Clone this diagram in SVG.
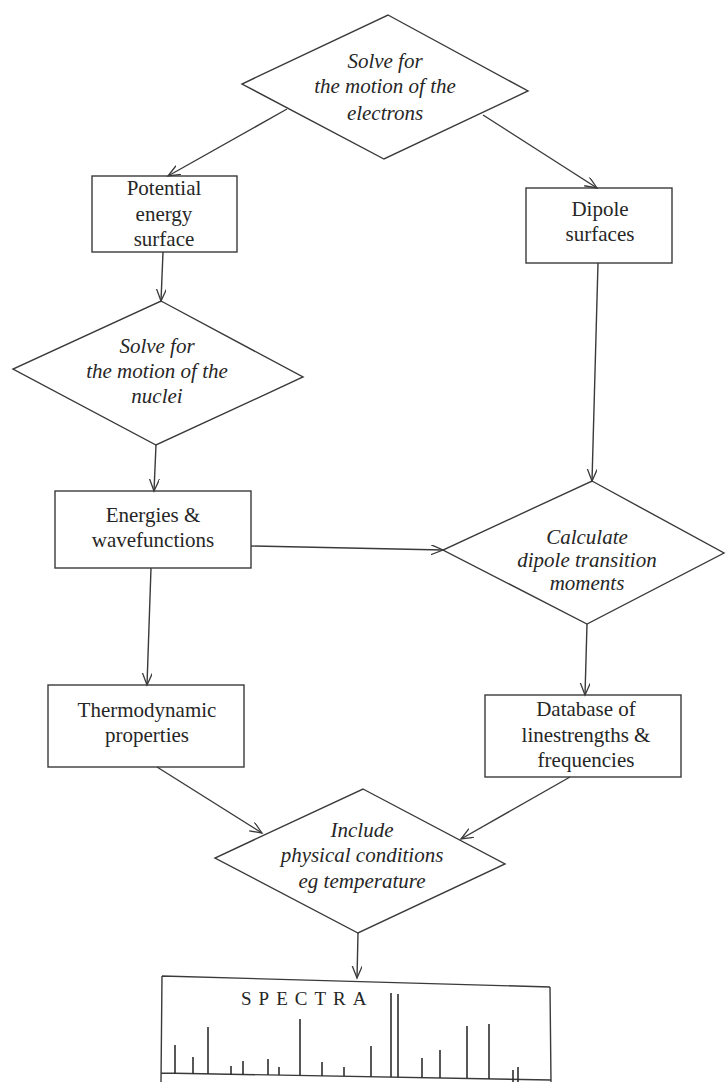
<svg xmlns="http://www.w3.org/2000/svg" width="728" height="1082" viewBox="0 0 728 1082">
<defs>
<style>
.shape{fill:none;stroke:#3a3a3a;stroke-width:1.4}
.conn{fill:none;stroke:#3a3a3a;stroke-width:1.4}
.t{font-family:"Liberation Serif","Times New Roman",serif;font-size:21px;fill:#262626;text-anchor:middle}
.i{font-style:italic}
.spec{stroke:#2e2e2e;stroke-width:1.6}
</style>
<marker id="ah" markerWidth="14" markerHeight="12" refX="12" refY="5" orient="auto" markerUnits="userSpaceOnUse">
<path d="M0,0 L12,5 L0,10" fill="none" stroke="#3a3a3a" stroke-width="1.3"/>
</marker>
</defs>
<rect width="728" height="1082" fill="#ffffff"/>

<g id="node-electrons">
<polygon class="shape" points="388,15 528,91 384,159 242,84"/>
<text class="t i" x="385" y="68">Solve for</text>
<text class="t i" x="385" y="93">the motion of the</text>
<text class="t i" x="385" y="120">electrons</text>
</g>

<g id="node-potential">
<rect class="shape" x="92" y="176" width="145" height="76"/>
<text class="t" x="164" y="195">Potential</text>
<text class="t" x="164" y="221">energy</text>
<text class="t" x="164" y="246">surface</text>
</g>

<g id="node-dipole">
<rect class="shape" x="526" y="188" width="146" height="75"/>
<text class="t" x="600" y="216">Dipole</text>
<text class="t" x="600" y="241">surfaces</text>
</g>

<g id="node-nuclei">
<polygon class="shape" points="161,301 303,377 156,445 13,369"/>
<text class="t i" x="157" y="353">Solve for</text>
<text class="t i" x="157" y="378">the motion of the</text>
<text class="t i" x="157" y="403">nuclei</text>
</g>

<g id="node-energies">
<rect class="shape" x="55" y="491" width="196" height="77"/>
<text class="t" x="153" y="522">Energies &amp;</text>
<text class="t" x="153" y="547">wavefunctions</text>
</g>

<g id="node-calculate">
<polygon class="shape" points="592,481 724,553 587,624 443,550"/>
<text class="t i" x="587" y="544">Calculate</text>
<text class="t i" x="587" y="567">dipole transition</text>
<text class="t i" x="587" y="590">moments</text>
</g>

<g id="node-thermo">
<rect class="shape" x="48" y="685" width="196" height="82"/>
<text class="t" x="147" y="717">Thermodynamic</text>
<text class="t" x="147" y="742">properties</text>
</g>

<g id="node-database">
<rect class="shape" x="485" y="695" width="196" height="82"/>
<text class="t" x="586" y="716">Database of</text>
<text class="t" x="586" y="742">linestrengths &amp;</text>
<text class="t" x="586" y="767">frequencies</text>
</g>

<g id="node-include">
<polygon class="shape" points="363,789 505,864 358,933 215,858"/>
<text class="t i" x="362" y="837">Include</text>
<text class="t i" x="362" y="862">physical conditions</text>
<text class="t i" x="362" y="888">eg temperature</text>
</g>

<g id="node-spectra">
<path class="shape" d="M162,976 L550,987 M162,976 L161,1082 M550,987 L551,1082 M161,1073 L551,1080"/>
<text x="241" y="1005" style="font-family:'Liberation Serif','Times New Roman',serif;font-size:19px;fill:#262626;letter-spacing:7px">SPECTRA</text>
<g class="spec">
<line x1="175" y1="1045" x2="175" y2="1074"/>
<line x1="193" y1="1057" x2="193" y2="1074"/>
<line x1="208" y1="1027" x2="208" y2="1074"/>
<line x1="231" y1="1066" x2="231" y2="1075"/>
<line x1="243" y1="1061" x2="243" y2="1075"/>
<line x1="268" y1="1059" x2="268" y2="1075"/>
<line x1="279" y1="1067" x2="279" y2="1075"/>
<line x1="300" y1="1019" x2="300" y2="1075"/>
<line x1="322" y1="1062" x2="322" y2="1076"/>
<line x1="344" y1="1067" x2="344" y2="1076"/>
<line x1="371" y1="1046" x2="371" y2="1077"/>
<line x1="391" y1="993" x2="391" y2="1077"/>
<line x1="398" y1="994" x2="398" y2="1077"/>
<line x1="422" y1="1058" x2="422" y2="1078"/>
<line x1="440" y1="1050" x2="440" y2="1078"/>
<line x1="467" y1="1026" x2="467" y2="1078"/>
<line x1="489" y1="1024" x2="489" y2="1079"/>
<line x1="513" y1="1070" x2="513" y2="1082"/>
<line x1="518" y1="1067" x2="518" y2="1082"/>
</g>
</g>

<g id="connectors">
<line class="conn" x1="287" y1="109" x2="168" y2="176" marker-end="url(#ah)"/>
<line class="conn" x1="483" y1="115" x2="597" y2="188" marker-end="url(#ah)"/>
<line class="conn" x1="163" y1="252" x2="161" y2="301" marker-end="url(#ah)"/>
<line class="conn" x1="598" y1="263" x2="592" y2="481" marker-end="url(#ah)"/>
<line class="conn" x1="156" y1="445" x2="154" y2="491" marker-end="url(#ah)"/>
<line class="conn" x1="251" y1="546" x2="443" y2="550" marker-end="url(#ah)"/>
<line class="conn" x1="151" y1="568" x2="147" y2="685" marker-end="url(#ah)"/>
<line class="conn" x1="587" y1="624" x2="585" y2="695" marker-end="url(#ah)"/>
<line class="conn" x1="157" y1="767" x2="262" y2="833" marker-end="url(#ah)"/>
<line class="conn" x1="570" y1="777" x2="461" y2="839" marker-end="url(#ah)"/>
<line class="conn" x1="358" y1="933" x2="357" y2="978" marker-end="url(#ah)"/>
</g>
</svg>
